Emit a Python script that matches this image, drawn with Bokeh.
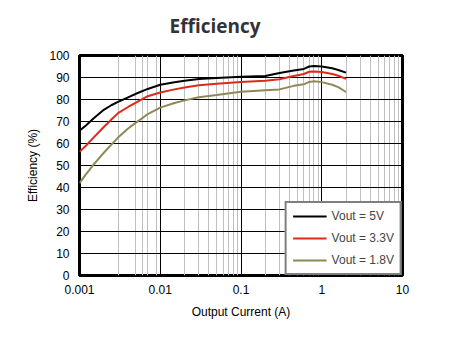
from bokeh.plotting import figure
from bokeh.models import FixedTicker, Legend, LegendItem, Range1d, Title
from bokeh.embed import file_html
from bokeh.resources import INLINE

# ---- data ----
current = [0.001, 0.0012, 0.0015, 0.002, 0.0025, 0.003, 0.004, 0.005, 0.007, 0.01,
           0.015, 0.02, 0.03, 0.05, 0.1, 0.2, 0.3, 0.45, 0.6, 0.7, 0.8, 1.0,
           1.35, 1.6, 2.0]
eff_5v = [65.8, 68.2, 71.5, 75.3, 77.5, 78.9, 81.0, 82.6, 84.8, 86.7,
          87.8, 88.5, 89.3, 89.8, 90.3, 90.7, 92.0, 93.2, 93.9, 95.0, 95.2, 95.0,
          94.2, 93.4, 92.2]
eff_3v3 = [56.2, 59.0, 62.8, 67.5, 71.0, 73.8, 76.6, 78.6, 81.5, 83.2,
           84.6, 85.5, 86.5, 87.2, 88.0, 88.5, 89.2, 90.7, 91.6, 92.6, 92.7, 92.5,
           91.6, 90.8, 89.4]
eff_1v8 = [42.0, 46.0, 50.5, 55.8, 59.6, 62.7, 66.8, 69.5, 73.3, 76.3,
           78.4, 79.6, 81.0, 82.0, 83.5, 84.2, 84.6, 86.2, 86.9, 88.0, 88.3, 87.9,
           86.7, 85.6, 83.4]
series_labels = ["Vout = 5V", "Vout = 3.3V", "Vout = 1.8V"]
series_colors = ["#000000", "#dd2a1b", "#8f8858"]
title_text = "Efficiency"

x_ticks = [0.001, 0.01, 0.1, 1, 10]
x_tick_labels = ["0.001", "0.01", "0.1", "1", "10"]
x_minor = [0.003, 0.005, 0.006, 0.007, 0.009,
           0.02, 0.03, 0.04, 0.05, 0.06, 0.07, 0.08, 0.09,
           0.2, 0.3, 0.4, 0.5, 0.6, 0.7, 0.8, 0.9,
           2, 3, 4, 5, 6, 7, 8, 9]
y_ticks = list(range(0, 101, 10))

p = figure(width=463, height=338, x_axis_type="log",
           x_range=Range1d(0.001, 10), y_range=Range1d(0, 100),
           output_backend="svg", toolbar_location=None,
           min_border_left=79, min_border_right=61,
           min_border_top=55, min_border_bottom=63)
p.frame_width = 323
p.frame_height = 220

p.title = Title(text=title_text, align="left", offset=90, standoff=4,
                padding=dict(left=0, right=0, top=0, bottom=15),
                text_font="Open Sans", text_font_style="bold",
                text_font_size="19px", text_color="#333333")

p.outline_line_color = "black"
p.outline_line_width = 3
p.background_fill_color = "white"
p.border_fill_color = "white"

p.xaxis.ticker = FixedTicker(ticks=x_ticks, minor_ticks=x_minor)
p.xaxis.major_label_overrides = {t: l for t, l in zip(x_ticks, x_tick_labels)}
p.yaxis.ticker = FixedTicker(ticks=y_ticks)

for ax in (p.xaxis[0], p.yaxis[0]):
    ax.axis_line_color = None
    ax.major_tick_line_color = None
    ax.minor_tick_line_color = None
    ax.major_tick_out = 0
    ax.major_tick_in = 0
    ax.minor_tick_out = 0
    ax.minor_tick_in = 0
    ax.major_label_text_font = "Liberation Sans"
    ax.major_label_text_font_size = "12px"
    ax.major_label_text_color = "black"
    ax.axis_label_text_font = "Liberation Sans"
    ax.axis_label_text_font_size = "12px"
    ax.axis_label_text_font_style = "normal"
    ax.axis_label_text_color = "black"

p.xaxis.axis_label = "Output Current (A)"
p.yaxis.axis_label = "Efficiency (%)"
p.xaxis.major_label_standoff = 9
p.yaxis.major_label_standoff = 10
p.xaxis.axis_label_standoff = 8
p.yaxis.axis_label_standoff = 6

p.xgrid.grid_line_color = "black"
p.xgrid.grid_line_width = 1
p.xgrid.minor_grid_line_color = "#c0c0c0"
p.xgrid.minor_grid_line_width = 1
p.ygrid.grid_line_color = "black"
p.ygrid.grid_line_width = 1

renderers = []
for vals, col in zip([eff_5v, eff_3v3, eff_1v8], series_colors):
    r = p.line(current, vals, line_color=col, line_width=2)
    renderers.append(r)

legend = Legend(items=[LegendItem(label=l, renderers=[r]) for l, r in zip(series_labels, renderers)],
                location="bottom_right", margin=0, padding=6, spacing=8,
                glyph_width=34, glyph_height=12, label_height=12, label_standoff=5,
                label_text_font="Liberation Sans", label_text_font_size="12px",
                border_line_color="black", border_line_width=2,
                background_fill_alpha=1.0)
p.add_layout(legend)

open("out.html", "w").write(file_html(p, INLINE))
